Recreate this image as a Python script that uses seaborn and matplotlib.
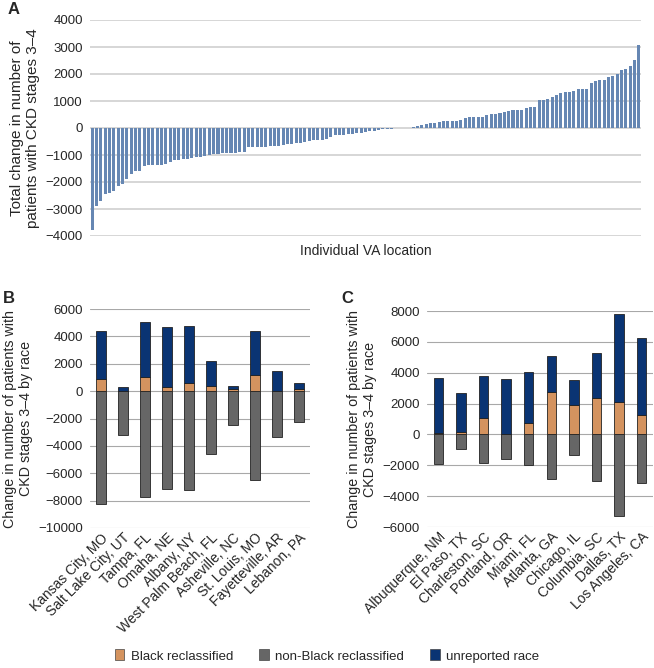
import matplotlib
matplotlib.use("Agg")
import matplotlib.pyplot as plt
import numpy as np
import pandas as pd
import seaborn as sns
from matplotlib.patches import Patch

# Panel A: total change per VA location, sorted
total_change = [-3790, -2890, -2700, -2430, -2410, -2330, -2150, -2060, -1880, -1720,
                -1590, -1580, -1400, -1370, -1370, -1360, -1360, -1350, -1260, -1200,
                -1185, -1160, -1136, -1123, -1086, -1062, -1037, -1012, -975, -951,
                -938, -938, -926, -914, -889, -889, -716, -704, -704, -691,
                -691, -679, -667, -654, -630, -605, -593, -568, -543, -519,
                -469, -457, -444, -432, -420, -346, -272, -247, -247, -222,
                -210, -185, -173, -148, -123, -111, -74, -50, -37, -25,
                -12, -10, -5, 5, 37, 74, 111, 148, 173, 185,
                210, 259, 272, 272, 272, 284, 383, 395, 407, 407,
                420, 469, 519, 519, 568, 605, 617, 667, 679, 679,
                741, 778, 778, 1037, 1037, 1086, 1160, 1235, 1284, 1321,
                1321, 1358, 1444, 1457, 1457, 1667, 1728, 1790, 1790, 1889,
                1938, 2000, 2160, 2198, 2284, 2506, 3074]

# Panel B
sites_b = ["Kansas City, MO", "Salt Lake City, UT", "Tampa, FL", "Omaha, NE", "Albany, NY",
           "West Palm Beach, FL", "Asheville, NC", "St. Louis, MO", "Fayetteville, AR", "Lebanon, PA"]
black_b = [880, 20, 1020, 270, 610, 370, 150, 1150, 0, 170]
nonblack_b = [-8220, -3170, -7760, -7170, -7200, -4560, -2510, -6510, -3370, -2290]
unreported_b = [3530, 250, 4000, 4440, 4150, 1850, 190, 3240, 1460, 420]

# Panel C
sites_c = ["Albuquerque, NM", "El Paso, TX", "Charleston, SC", "Portland, OR", "Miami, FL",
           "Atlanta, GA", "Chicago, IL", "Columbia, SC", "Dallas, TX", "Los Angeles, CA"]
black_c = [108, 172, 1078, 43, 754, 2737, 1897, 2371, 2091, 1250]
nonblack_c = [-1897, -927, -1875, -1616, -2004, -2909, -1358, -3039, -5302, -3147]
unreported_c = [3577, 2544, 2694, 3535, 3298, 2349, 1659, 2931, 5732, 5000]

C_BLACK = "#D4935F"
C_NONBLACK = "#666666"
C_UNREP = "#0A3473"
C_A = "#6687B3"

sns.set_style("white")
plt.rcParams["font.family"] = ["Liberation Sans", "DejaVu Sans"]

fig = plt.figure(figsize=(6.54, 6.68), dpi=100)
W, H = 654, 668


def add_ax(l, t, r, b):
    return fig.add_axes([l / W, 1 - b / H, (r - l) / W, (b - t) / H])


axA = add_ax(90, 20, 641, 236)
axB = add_ax(90, 309, 310, 528)
axC = add_ax(427, 311, 653, 527)

# ---- A ----
dfA = pd.DataFrame({"loc": np.arange(len(total_change)), "change": total_change})
sns.barplot(data=dfA, x="loc", y="change", color=C_A, width=0.7, saturation=1,
            linewidth=0, ax=axA)
axA.set_ylim(-4000, 4000)
axA.set_yticks(np.arange(-4000, 4001, 1000))
axA.set_xticks([])
axA.set_xlabel("Individual VA location", fontsize=10, labelpad=6)
axA.set_ylabel("Total change in number of\npatients with CKD stages 3\u20134", fontsize=11)
axA.grid(axis="y", color="#d0d0d0", linewidth=1.2)
axA.set_axisbelow(True)


def stacked(ax, sites, black, nonblack, unrep):
    df = pd.DataFrame({"site": sites, "black": black, "nonblack": nonblack,
                       "unrep": unrep})
    kw = dict(width=0.42, saturation=1, edgecolor="#222222", linewidth=0.6, ax=ax)
    sns.barplot(data=df, x="site", y="nonblack", color=C_NONBLACK, **kw)
    sns.barplot(data=df, x="site", y="black", color=C_BLACK, **kw)
    sns.barplot(data=df, x="site", y="unrep", bottom=df["black"], color=C_UNREP, **kw)
    ax.set_xlabel("")
    ax.set_ylabel("Change in number of patients with\nCKD stages 3\u20134 by race", fontsize=10.3)
    ax.grid(axis="y", color="#a8a8a8", linewidth=0.8)
    ax.set_axisbelow(True)
    ax.tick_params(axis="x", length=0, pad=2)
    plt.setp(ax.get_xticklabels(), rotation=45, ha="right", rotation_mode="anchor",
             fontsize=10)


stacked(axB, sites_b, black_b, nonblack_b, unreported_b)
axB.set_ylim(-10000, 6000)
axB.set_yticks(np.arange(-10000, 6001, 2000))

stacked(axC, sites_c, black_c, nonblack_c, unreported_c)
axC.set_ylim(-6000, 8000)
axC.set_yticks(np.arange(-6000, 8001, 2000))

for ax in (axA, axB, axC):
    for s in ax.spines.values():
        s.set_visible(False)
    ax.tick_params(axis="y", length=0, labelsize=9.5, pad=5)
    ax.set_yticklabels([f"{int(v)}".replace("-", "\u2212") for v in ax.get_yticks()])

fig.text(8 / W, 1 - 14 / H, "A", fontsize=12, fontweight="bold")
fig.text(3 / W, 1 - 303 / H, "B", fontsize=12, fontweight="bold")
fig.text(341 / W, 1 - 303 / H, "C", fontsize=12, fontweight="bold")

handles = [Patch(facecolor=C_BLACK, edgecolor="#444444", linewidth=0.5, label="Black reclassified"),
           Patch(facecolor=C_NONBLACK, edgecolor="#444444", linewidth=0.5, label="non-Black reclassified"),
           Patch(facecolor=C_UNREP, edgecolor="#444444", linewidth=0.5, label="unreported race")]
fig.legend(handles=handles, loc="center", bbox_to_anchor=(0.5, 1 - 656 / H), ncol=3,
           frameon=False, fontsize=9.5, handlelength=0.7, handleheight=0.9,
           handletextpad=0.5, columnspacing=2.0)

fig.savefig("out.png", dpi=100)
